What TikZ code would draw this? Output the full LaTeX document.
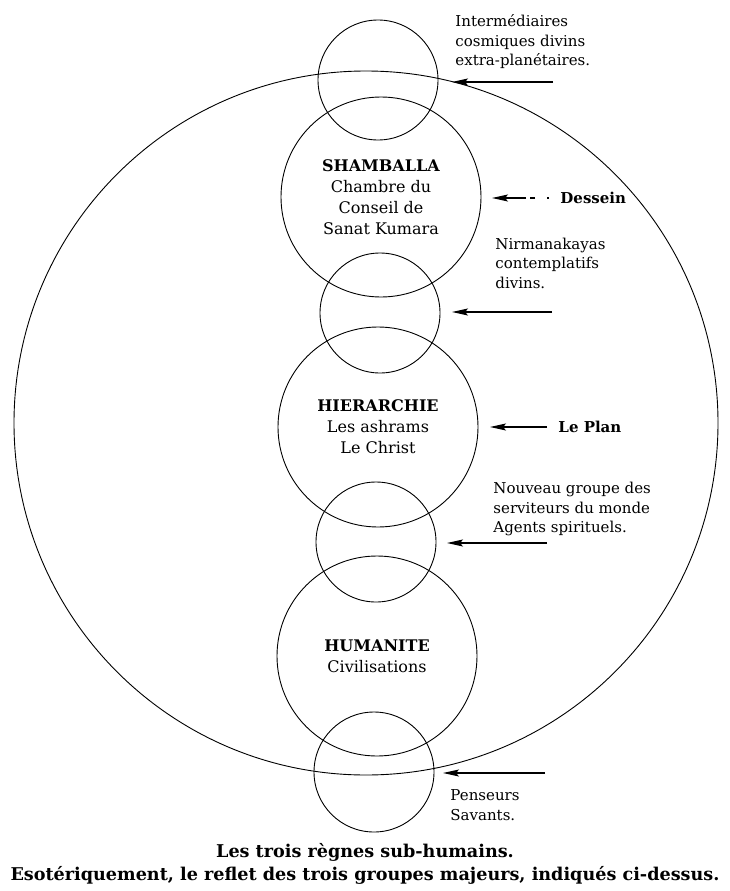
\documentclass[tikz,border=0pt]{standalone}
\usepackage{fontspec}
\setmainfont{DejaVu Serif}
\usetikzlibrary{arrows.meta, positioning}

\begin{document}
\begin{tikzpicture}[x=1pt, y=-1pt, line width=0.9pt,
  >={Stealth[length=16pt, width=7pt, inset=3pt]},
  sphere/.style={draw, circle, inner sep=0pt, minimum size=200pt, align=center,
    font=\fontsize{16}{21}\selectfont},
  passage/.style={draw, circle, inner sep=0pt, minimum size=120pt},
  note/.style={anchor=west, align=left, inner sep=0pt, font=\fontsize{15}{19.5}\selectfont},
  pointer/.style={->, line width=1.2pt}]
  \useasboundingbox (0,0) rectangle (730,891);
  % Grand cercle
  \node[draw, circle, inner sep=0pt, minimum size=704pt] (monde) at (366,423) {};
  % Centres
  \node[sphere] (shamballa) at (381,197) {\textbf{SHAMBALLA}\\Chambre du\\Conseil de\\Sanat Kumara};
  \node[sphere] (hierarchie) at (378,427) {\textbf{HIERARCHIE}\\Les ashrams\\Le Christ};
  \node[sphere] (humanite) at (377,656) {\textbf{HUMANITE}\\Civilisations};
  % Groupes intermediaires
  \node[passage] (cosmiques) at (378,80) {};
  \node[passage] (nirmanakayas) at (380,313) {};
  \node[passage] (serviteurs) at (376,542) {};
  \node[passage] (penseurs) at (374,772) {};
  % Textes
  \node[note] (tCosmiques) at (455,42) {Intermédiaires\\cosmiques divins\\extra-planétaires.};
  \node[note, font=\fontsize{15}{19.5}\selectfont\bfseries] (tDessein) at (560,198) {Dessein};
  \node[note] (tNirmanakayas) at (495,263) {Nirmanakayas\\contemplatifs\\divins.};
  \node[note, font=\fontsize{15}{19.5}\selectfont\bfseries] (tPlan) at (558,427) {Le Plan};
  \node[note] (tServiteurs) at (493,509) {Nouveau groupe des\\serviteurs du monde\\Agents spirituels.};
  \node[note] (tPenseurs) at (450,805) {Penseurs\\Savants.};
  \node[align=center, inner sep=0pt, font=\fontsize{17.6}{23}\selectfont\bfseries] (legende) at (365,864)
    {Les trois règnes sub-humains.\\Esotériquement, le reflet des trois groupes majeurs, indiqués ci-dessus.};
  % Fleches
  \coordinate (aCosmiques) at (553,82);
  \coordinate (bCosmiques) at (452,82);
  \coordinate (aDessein) at (549,198);
  \coordinate (bDessein) at (492,198);
  \coordinate (aNirmanakayas) at (552,312);
  \coordinate (bNirmanakayas) at (452,312);
  \coordinate (aPlan) at (547,427);
  \coordinate (bPlan) at (490,427);
  \coordinate (aServiteurs) at (547,543);
  \coordinate (bServiteurs) at (447,543);
  \coordinate (aPenseurs) at (545,773);
  \coordinate (bPenseurs) at (443,773);
  \draw[pointer] (aCosmiques) -- (bCosmiques);
  \draw[pointer, dash pattern=on 2pt off 12pt on 5pt off 4pt on 60pt] (aDessein) -- (bDessein);
  \draw[pointer] (aNirmanakayas) -- (bNirmanakayas);
  \draw[pointer] (aPlan) -- (bPlan);
  \draw[pointer] (aServiteurs) -- (bServiteurs);
  \draw[pointer] (aPenseurs) -- (bPenseurs);
\end{tikzpicture}
\end{document}
